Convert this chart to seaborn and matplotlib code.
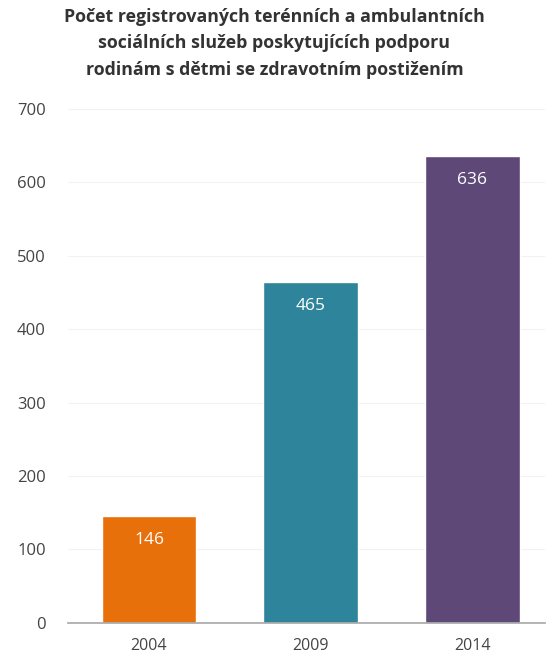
import matplotlib
matplotlib.use("Agg")
import matplotlib.pyplot as plt
import seaborn as sns
import pandas as pd

years = ["2004", "2009", "2014"]
values = [146, 465, 636]
colors = ["#E8700A", "#2E849A", "#5E4878"]
title = ("Počet registrovaných terénních a ambulantních\n"
         "sociálních služeb poskytujících podporu\n"
         "rodinám s dětmi se zdravotním postižením")

sns.set_theme(style="white")
plt.rcParams['font.family'] = ['Open Sans', 'DejaVu Sans']

df = pd.DataFrame({"year": years, "value": values})

fig = plt.figure(figsize=(5.49, 6.57), dpi=100)
ax = fig.add_axes([0.124, 0.052, 0.869, 0.782])
sns.barplot(data=df, x="year", y="value", hue="year", palette=colors,
            width=0.585, legend=False, ax=ax, saturation=1)

ax.set_ylim(0, 700)
ax.set_xlim(-0.5, 2.45)
ax.set_yticks(range(0, 701, 100))
ax.yaxis.grid(True, color="#f2f2f2", linewidth=0.8)
ax.set_axisbelow(True)
for s in ["top", "right", "left"]:
    ax.spines[s].set_visible(False)
ax.spines["bottom"].set_color("#aaaaaa")
ax.set_xlabel("")
ax.set_ylabel("")
ax.tick_params(axis="both", length=0, labelsize=12, labelcolor="#444444")
ax.tick_params(axis="y", pad=16)
ax.tick_params(axis="x", pad=11, labelsize=11.5)

for i, v in enumerate(values):
    ax.text(i, v - 22, str(v), ha="center", va="top", color="white", fontsize=12.5)

fig.text(0.5, 0.988, title, ha="center", va="top", fontsize=12.8,
         fontweight="bold", color="#333333", linespacing=1.6)

fig.savefig("out.png", dpi=100)
